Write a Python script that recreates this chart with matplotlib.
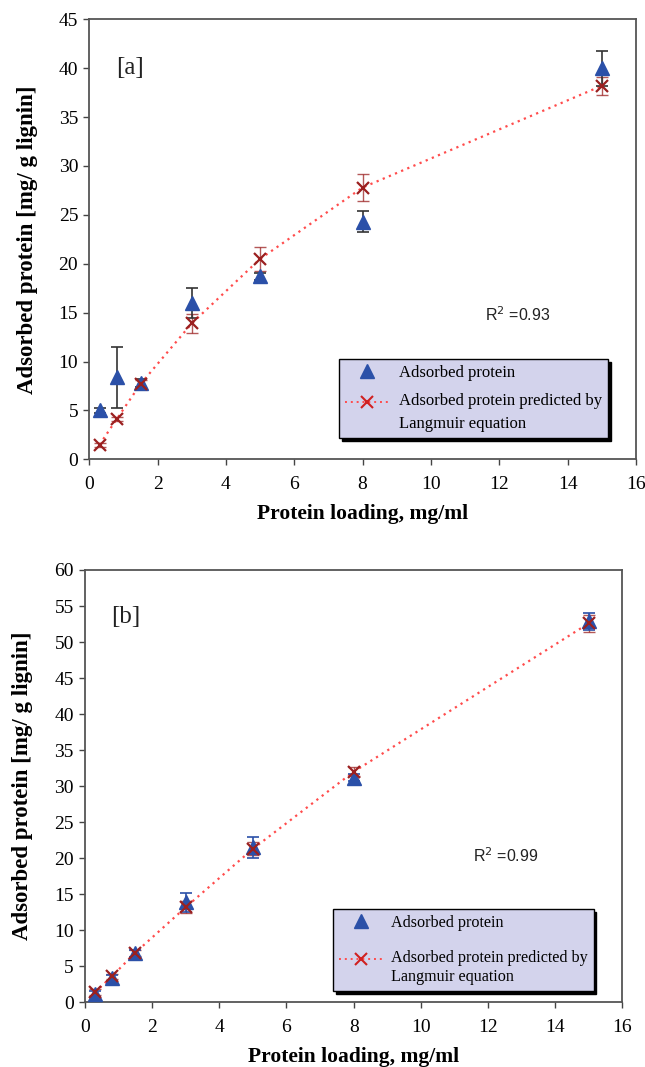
import numpy as np
import matplotlib.pyplot as plt
from matplotlib.lines import Line2D
from matplotlib.legend_handler import HandlerLine2D

# Protein loading (mg/ml)
loading = [0.3, 0.8, 1.5, 3, 5, 8, 15]

# Panel [a]
ads_a = [5.0, 8.4, 7.8, 16.0, 18.7, 24.3, 40.0]
ads_a_err = [0.3, 3.1, 0.4, 1.5, 0.4, 1.1, 1.8]
pred_a = [1.5, 4.1, 7.7, 13.9, 20.5, 27.8, 38.2]
pred_a_err = [0.2, 0.2, 0.4, 1.0, 1.2, 1.4, 0.9]

# Panel [b]
ads_b = [1.2, 3.4, 6.8, 13.9, 21.5, 31.2, 52.9]
ads_b_err = [0.4, 0.4, 0.5, 1.3, 1.4, 0.5, 1.2]
pred_b = [1.4, 3.6, 6.9, 13.2, 21.3, 32.0, 52.6]
pred_b_err = [0.4, 0.4, 0.4, 0.8, 0.9, 0.6, 1.2]

serif = "Liberation Serif"
blue = "#2b50a8"
xred = "#9b2020"
lred = "#ff4c4c"
legend_bg = "#d3d3ec"


class RaisedHandler(HandlerLine2D):
    # puts the legend handle level with the first line of a two-line label
    def __init__(self, shift, **kw):
        super().__init__(**kw)
        self.shift = shift

    def create_artists(self, legend, orig_handle, xdescent, ydescent, width,
                       height, fontsize, trans):
        artists = super().create_artists(legend, orig_handle, xdescent,
                                         ydescent, width, height, fontsize,
                                         trans)
        for a in artists:
            a.set_ydata(np.asarray(a.get_ydata(), dtype=float) + self.shift)
        return artists


fig = plt.figure(figsize=(6.45, 10.67), dpi=100)
ax_a = fig.add_axes([0.1384, 0.5695, 0.8476, 0.4124])
ax_b = fig.add_axes([0.1318, 0.0606, 0.8330, 0.4052])


def draw(ax, ads, ads_err, pred, pred_err, ymax, ystep, tag, tag_y, r2, r2_xy,
         ads_ecolor, leg_anchor, leg_size, leg_spacing, leg_linespacing,
         shift):
    ax.errorbar(loading, pred, yerr=pred_err, fmt="none", ecolor=xred,
                elinewidth=1.0, capsize=4, capthick=1.0, alpha=0.75, zorder=2)
    ax.plot(loading, pred, linestyle=(0, (1, 2)), color=lred, linewidth=1.6,
            zorder=2)
    ax.errorbar(loading, ads, yerr=ads_err, fmt="none", ecolor=ads_ecolor,
                elinewidth=1.2, capsize=4, capthick=1.2, zorder=3)
    ax.plot(loading, ads, linestyle="none", marker="^", color=blue,
            markersize=10.5, zorder=4)
    ax.plot(loading, pred, linestyle="none", marker="x", color=xred,
            markersize=8, markeredgewidth=1.6, zorder=5)

    ax.set_xlim(0, 16)
    ax.set_ylim(0, ymax)
    ax.set_xticks(range(0, 17, 2))
    ax.set_yticks(range(0, ymax + 1, ystep))
    ax.tick_params(direction="out", length=4, width=1, color="#444444",
                   labelsize=14)
    ax.tick_params(axis="x", pad=8)
    ax.tick_params(axis="y", pad=4)
    for lab in ax.get_xticklabels() + ax.get_yticklabels():
        lab.set_family(serif)
    for sp in ax.spines.values():
        sp.set_color("#555555")
        sp.set_linewidth(1.3)

    ax.set_xlabel("Protein loading, mg/ml", family=serif, fontweight="bold",
                  fontsize=15.5, labelpad=8)
    ax.set_ylabel("Adsorbed protein [mg/ g lignin]", family=serif,
                  fontweight="bold", fontsize=16.5, labelpad=15)

    ax.text(0.78, tag_y, tag, family=serif, fontsize=18, va="center",
            color="#222222")
    ax.text(r2_xy[0], r2_xy[1], "R$^2$ =" + r2, family="Liberation Sans",
            fontsize=11.5, va="center", color="#222222")

    h_ads = Line2D([], [], linestyle="none", marker="^", color=blue,
                   markersize=10.5)
    h_pred = Line2D([], [], linestyle=(0, (1, 2)), color=lred, linewidth=1.4,
                    marker="x", markeredgecolor="#d02020", markersize=9,
                    markeredgewidth=1.5)
    leg = ax.legend([h_ads, h_pred],
                    ["Adsorbed protein",
                     "Adsorbed protein predicted by\nLangmuir equation"],
                    handler_map={h_pred: RaisedHandler(shift)},
                    loc="upper left", bbox_to_anchor=leg_anchor,
                    prop={"family": serif, "size": leg_size}, fancybox=False,
                    facecolor=legend_bg, edgecolor="black", framealpha=1,
                    shadow={"color": "black", "alpha": 1},
                    handlelength=2.7, handletextpad=0.55,
                    labelspacing=leg_spacing, borderpad=0.35, borderaxespad=0)
    for t in leg.get_texts():
        t.set_linespacing(leg_linespacing)
    leg.get_frame().set_linewidth(1.0)


draw(ax_a, ads_a, ads_a_err, pred_a, pred_a_err, 45, 5, "[a]", 40.0, "0.93",
     (11.58, 14.8), "#333333", (0.457, 0.228), 12, 0.72, 1.6, 8.0)
draw(ax_b, ads_b, ads_b_err, pred_b, pred_b_err, 60, 5, "[b]", 53.5, "0.99",
     (11.55, 20.4), blue, (0.462, 0.215), 11.6, 1.2, 1.25, 6.8)

fig.savefig("out.png", dpi=100)
